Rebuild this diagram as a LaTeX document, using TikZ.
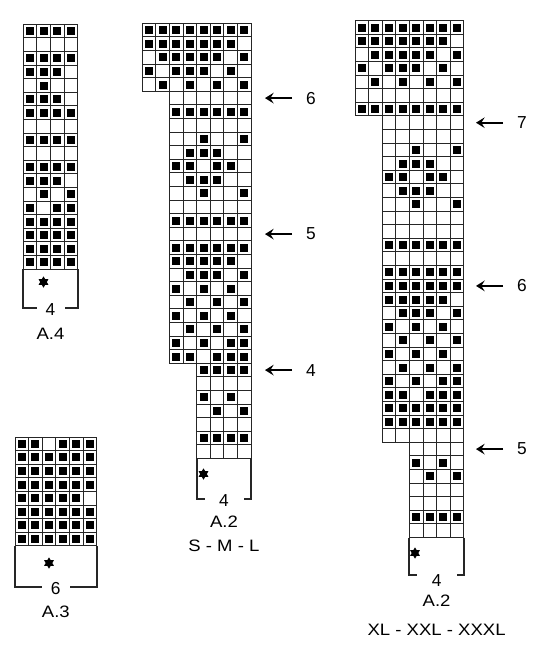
\documentclass[tikz,border=0pt]{standalone}
\usepackage{fontspec}
\setmainfont{Liberation Sans}
\newfontfamily\widesans{Liberation Sans}[FakeStretch=1.12]
\usetikzlibrary{arrows.meta, shapes.geometric}

% one block of a chart: left x, top y, rows of 0/1 (1 = black square)
\newcommand{\chartpart}[3]{%
  \foreach \cells [count=\ry] in {#3} {
    \foreach \f [count=\cx] in \cells {
      \draw[cell] ({#1+(\cx-1)*13.6},{#2+(\ry-1)*13.6}) rectangle ++(13.6,13.6);
      \ifnum\f=1
        \fill[knit] ({#1+(\cx-1)*13.6+2.8},{#2+(\ry-1)*13.6+2.8}) rectangle ++(8,8);
      \fi
    }
  }
}

\begin{document}
\begin{tikzpicture}[x=0.75pt, y=-0.75pt,
  cell/.style={draw=black!85, line width=0.7pt},
  knit/.style={fill=black},
  bracket/.style={draw=black!85, line width=1.5pt},
  rowarrow/.style={line width=1.25pt, -{Stealth[length=6.5pt, width=8pt, inset=2.5pt]}},
  lbl/.style={font=\widesans\fontsize{12.4}{14}\selectfont, inner sep=0pt},
  num/.style={font=\fontsize{13}{15}\selectfont, inner sep=0pt},
  starmark/.style={star, star points=6, star point ratio=1.7, fill=black, inner sep=0pt, minimum size=8.5pt}]
\useasboundingbox (0,0) rectangle (545,650);

% A.4
\chartpart{23.3}{24.3}{
  {1,1,1,1},{0,0,0,0},{1,1,1,1},{1,1,1,0},{0,1,0,0},{1,1,1,0},
  {1,1,1,1},{0,0,0,0},{1,1,1,1},{0,0,0,0},{1,1,1,1},{1,1,1,0},
  {0,1,0,1},{1,0,1,1},{1,1,1,1},{1,1,1,1},{1,1,1,1},{1,1,1,1}}
\draw[bracket] (23.3,269.1) -- (23.3,308.3) -- (36.7,308.3);
\draw[bracket] (77.7,269.1) -- (77.7,308.3) -- (65,308.3);
\node[starmark] (afourstar) at (43.5,282) {};
\node[num] (afourwidth) at (50.5,309.7) {4};
\node[lbl] (afourname) at (50.5,334) {A.4};

% A.3
\chartpart{15}{437}{
  {1,1,0,1,1,1},{1,1,1,1,1,1},{1,1,1,1,1,1},{1,1,1,1,1,1},
  {1,1,1,1,1,0},{1,1,1,1,1,1},{1,1,1,1,1,1},{1,1,1,1,1,1}}
\draw[bracket] (15,545.8) -- (15,587) -- (42,587);
\draw[bracket] (96.6,545.8) -- (96.6,587) -- (69.6,587);
\node[starmark] (athreestar) at (49,563) {};
\node[num] (athreewidth) at (55.8,588.5) {6};
\node[lbl] (athreename) at (55.8,612) {A.3};

% A.2, S - M - L
\chartpart{142.3}{23.3}{
  {1,1,1,1,1,1,1,1},{1,1,1,1,1,1,1,0},{0,1,1,1,1,1,0,1},
  {1,0,1,1,1,0,1,0},{0,1,0,1,0,1,0,1}}
\chartpart{169.5}{91.3}{
  {0,0,0,0,0,0},{1,1,1,1,1,1},{0,0,0,0,0,0},{0,0,1,0,0,1},{0,1,1,1,0,0},
  {1,1,0,1,1,0},{0,1,1,1,0,0},{0,0,1,0,0,1},{0,0,0,0,0,0},{1,1,1,1,1,1},
  {0,0,0,0,0,0},{1,1,1,1,1,1},{1,1,1,1,1,0},{0,1,1,1,0,1},{1,0,1,0,1,0},
  {0,1,0,1,0,1},{1,0,1,0,1,0},{0,1,0,1,0,1},{1,0,1,0,1,1},{1,1,0,1,1,1}}
\chartpart{196.7}{363.3}{
  {1,1,1,1},{0,0,0,0},{1,0,1,0},{0,1,0,1},{0,0,0,0},{1,1,1,1},{0,0,0,0}}
\draw[bracket] (196.7,458.5) -- (196.7,499) -- (204.5,499);
\draw[bracket] (251.1,458.5) -- (251.1,499) -- (243.5,499);
\node[starmark] (smlstar) at (203.5,474) {};
\node[num] (smlwidth) at (223.9,500.5) {4};
\node[lbl] (smlname) at (223.9,522) {A.2};
\node[lbl] (smlsizes) at (223.9,546) {S - M - L};

\node[num] (smlsix) at (311,98.1) {6};
\node[num] (smlfive) at (311,234.1) {5};
\node[num] (smlfour) at (311,370.1) {4};
\draw[rowarrow] (smlsix) ++(-19,0) -- ++(-27,0);
\draw[rowarrow] (smlfive) ++(-19,0) -- ++(-27,0);
\draw[rowarrow] (smlfour) ++(-19,0) -- ++(-27,0);

% A.2, XL - XXL - XXXL
\chartpart{355}{20.7}{
  {1,1,1,1,1,1,1,1},{1,1,1,1,1,1,1,0},{0,1,1,1,1,1,0,1},{1,0,1,1,1,0,1,0},
  {0,1,0,1,0,1,0,1},{0,0,0,0,0,0,0,0},{1,1,1,1,1,1,1,1}}
\chartpart{382.2}{115.9}{
  {0,0,0,0,0,0},{0,0,0,0,0,0},{0,0,1,0,0,1},{0,1,1,1,0,0},{1,1,0,1,1,0},
  {0,1,1,1,0,0},{0,0,1,0,0,1},{0,0,0,0,0,0},{0,0,0,0,0,0},{1,1,1,1,1,1},
  {0,0,0,0,0,0},{1,1,1,1,1,1},{1,1,1,1,1,1},{1,1,1,1,1,0},{0,1,1,1,0,1},
  {1,0,1,0,1,0},{0,1,0,1,0,1},{1,0,1,0,1,0},{0,1,0,1,0,1},{1,0,1,0,1,1},
  {1,1,0,1,1,1},{1,1,1,1,1,1},{1,1,1,1,1,1},{0,0,0,0,0,0}}
\chartpart{409.4}{442.3}{
  {0,0,0,0},{1,0,1,0},{0,1,0,1},{0,0,0,0},{0,0,0,0},{1,1,1,1},{0,0,0,0}}
\draw[bracket] (409.4,537.5) -- (409.4,575) -- (417,575);
\draw[bracket] (463.8,537.5) -- (463.8,575) -- (456.5,575);
\node[starmark] (xlstar) at (415,553) {};
\node[num] (xlwidth) at (436.6,581) {4};
\node[lbl] (xlname) at (436.6,601) {A.2};
\node[lbl] (xlsizes) at (436.6,630) {XL - XXL - XXXL};

\node[num] (xlseven) at (522,122.7) {7};
\node[num] (xlsix) at (522,285.9) {6};
\node[num] (xlfive) at (522,449.1) {5};
\draw[rowarrow] (xlseven) ++(-19,0) -- ++(-27,0);
\draw[rowarrow] (xlsix) ++(-19,0) -- ++(-27,0);
\draw[rowarrow] (xlfive) ++(-19,0) -- ++(-27,0);
\end{tikzpicture}
\end{document}
